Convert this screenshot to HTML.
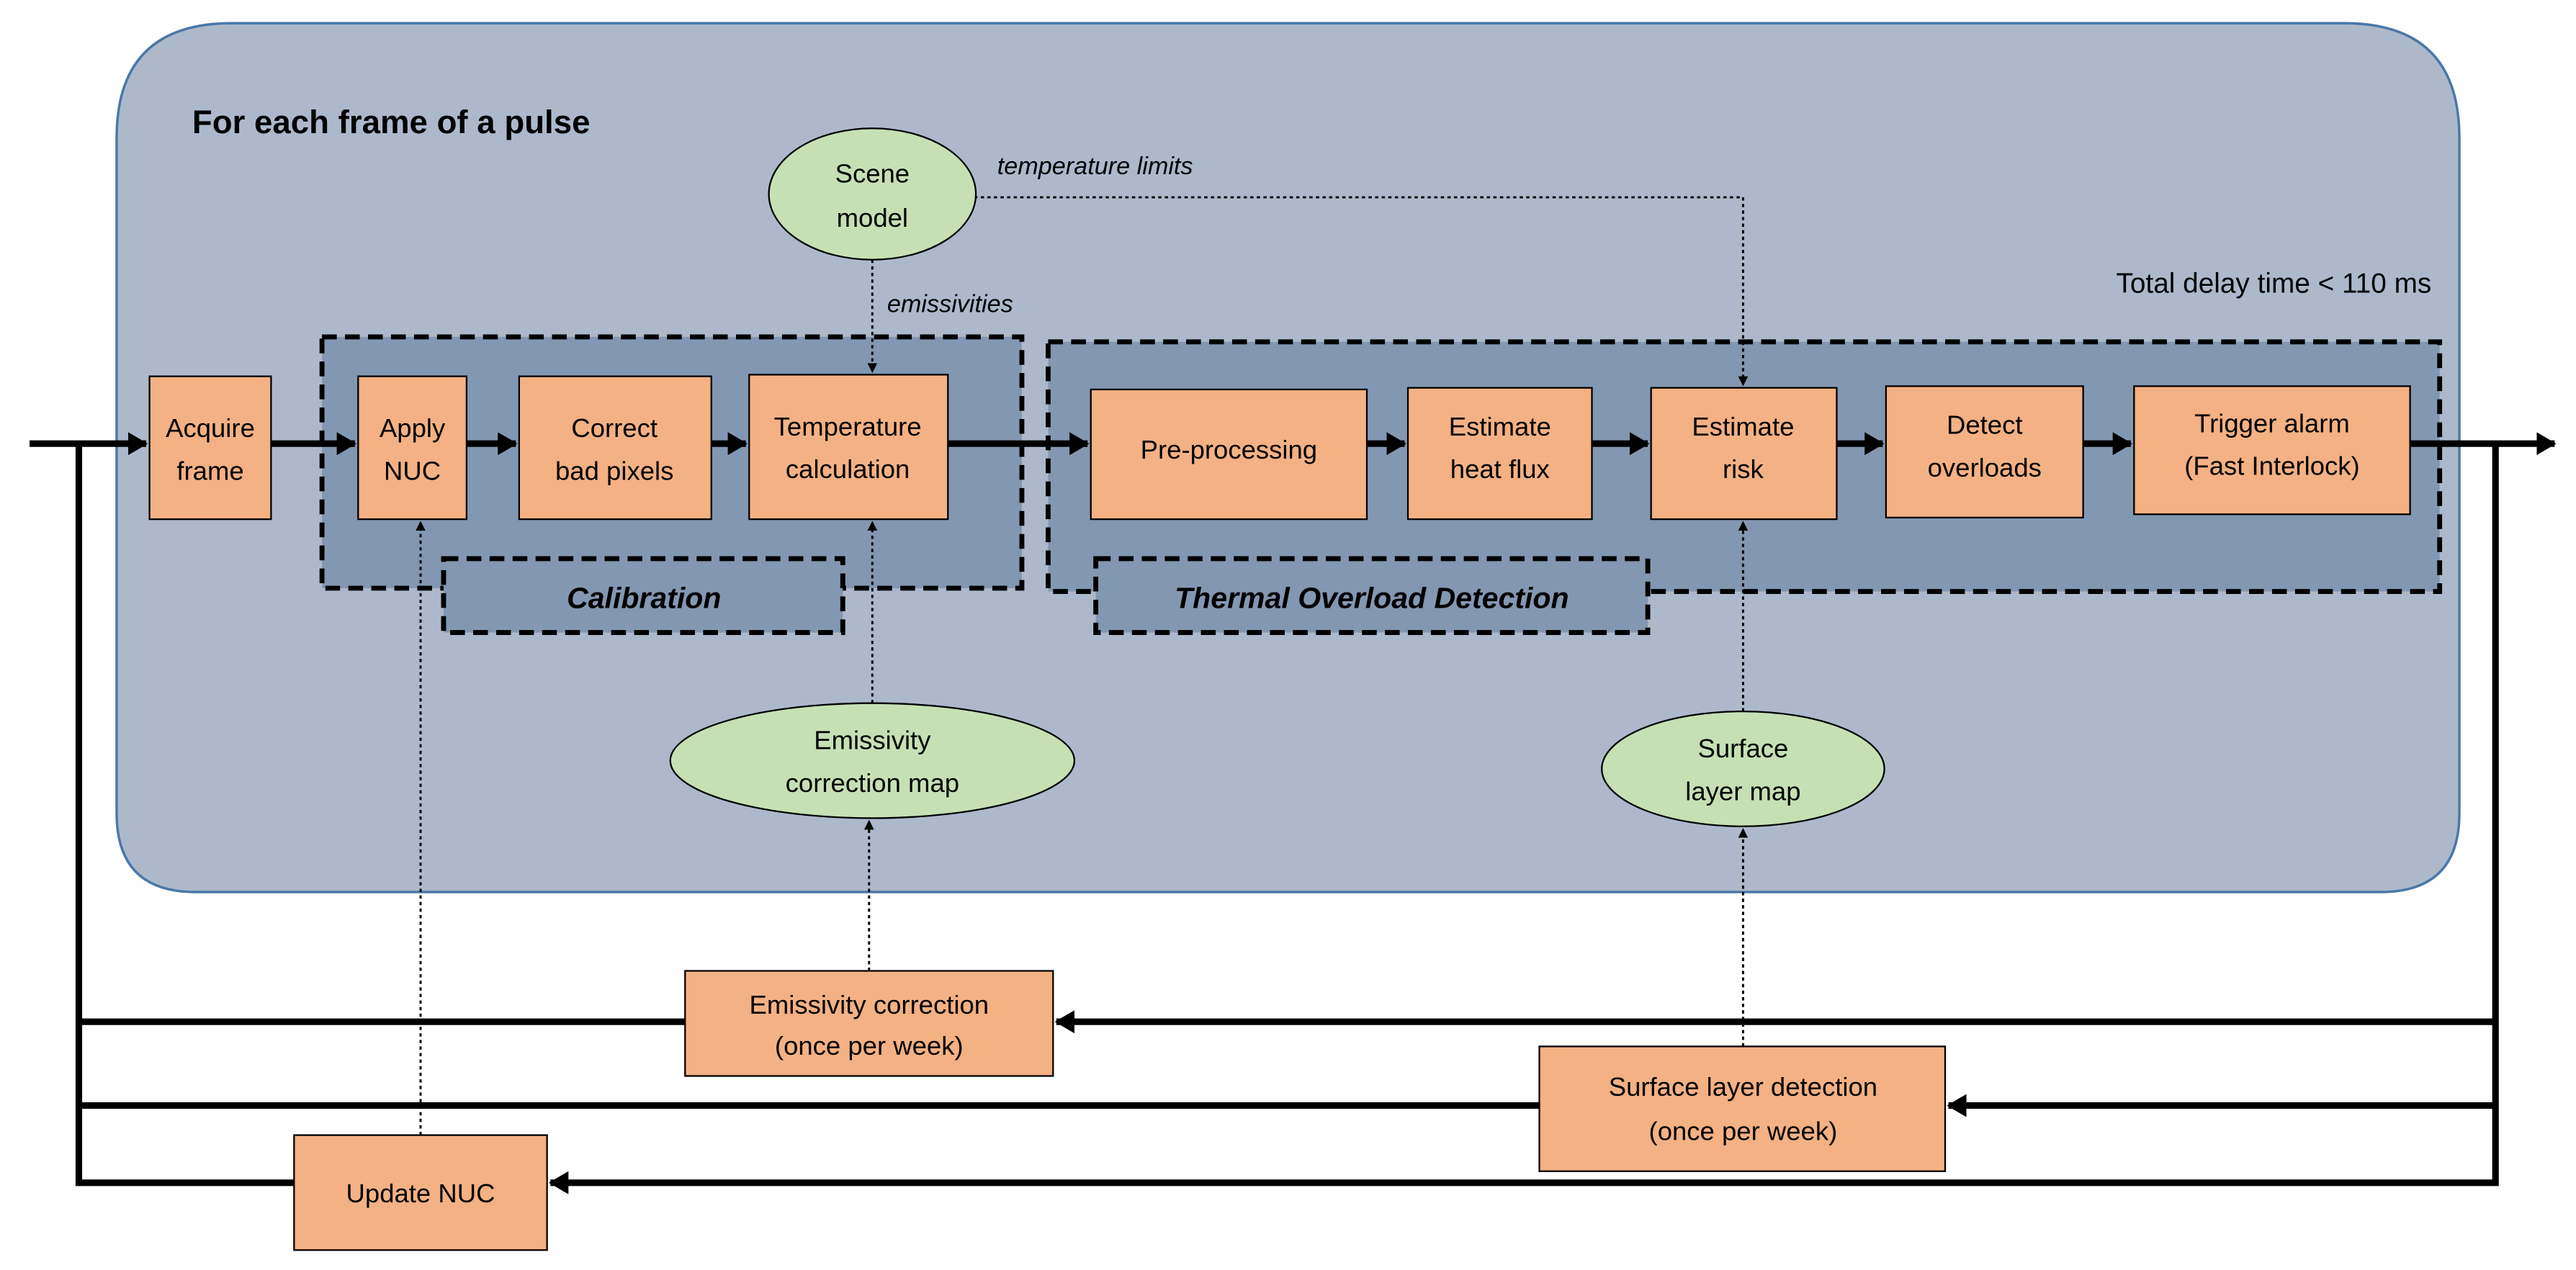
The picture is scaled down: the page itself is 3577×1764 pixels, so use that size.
<!DOCTYPE html>
<html><head><meta charset="utf-8"><style>
html,body{margin:0;padding:0;background:#fff;}
svg{display:block;}
text{font-family:"Liberation Sans",sans-serif;fill:#000;}
</style></head><body>
<svg width="3577" height="1764" viewBox="0 0 1568 773" xmlns="http://www.w3.org/2000/svg">
<defs>
<marker id="ah" markerWidth="6" markerHeight="6" refX="5" refY="3" orient="auto" markerUnits="userSpaceOnUse"><path d="M0,0 L6,3 L0,6 z" fill="#000"/></marker>
<marker id="bh" markerWidth="12" markerHeight="14" refX="11" refY="7" orient="auto" markerUnits="userSpaceOnUse"><path d="M0,0 L12,7 L0,14 z" fill="#000"/></marker>
</defs>
<!-- main container -->
<path d="M141,14 L1427,14 Q1497,14 1497,84 L1497,495 Q1497,543 1449,543 L119,543 Q71,543 71,495 L71,84 Q71,14 141,14 Z" fill="#adb9cb" stroke="#4a78a8" stroke-width="1.5"/>
<text x="117" y="81" font-size="20" font-weight="bold">For each frame of a pulse</text>
<text x="1480" y="178" font-size="17" text-anchor="end">Total delay time &lt; 110 ms</text>

<!-- group boxes -->
<rect x="196" y="205" width="426" height="153" fill="#8297b1" stroke="#000" stroke-width="3" stroke-dasharray="9,5"/>
<rect x="270" y="340" width="243" height="45" fill="#8297b1" stroke="#000" stroke-width="3" stroke-dasharray="9,5"/>
<text x="392" y="370" font-size="18" font-weight="bold" font-style="italic" text-anchor="middle">Calibration</text>
<rect x="638" y="208" width="847" height="152" fill="#8297b1" stroke="#000" stroke-width="3" stroke-dasharray="9,5"/>
<rect x="667" y="340" width="336" height="45" fill="#8297b1" stroke="#000" stroke-width="3" stroke-dasharray="9,5"/>
<text x="835" y="370" font-size="18" font-weight="bold" font-style="italic" text-anchor="middle">Thermal Overload Detection</text>

<!-- thick main flow -->
<g stroke="#000" stroke-width="4" fill="none">
<line x1="18" y1="270" x2="89" y2="270" marker-end="url(#bh)"/>
<line x1="165" y1="270" x2="216" y2="270" marker-end="url(#bh)"/>
<line x1="284" y1="270" x2="314" y2="270" marker-end="url(#bh)"/>
<line x1="433" y1="270" x2="454" y2="270" marker-end="url(#bh)"/>
<line x1="577" y1="270" x2="662" y2="270" marker-end="url(#bh)"/>
<line x1="832" y1="270" x2="855" y2="270" marker-end="url(#bh)"/>
<line x1="969" y1="270" x2="1003" y2="270" marker-end="url(#bh)"/>
<line x1="1118" y1="270" x2="1146" y2="270" marker-end="url(#bh)"/>
<line x1="1268" y1="270" x2="1297" y2="270" marker-end="url(#bh)"/>
<line x1="1467" y1="270" x2="1555" y2="270" marker-end="url(#bh)"/>
<polyline points="48,270 48,720 179,720"/>
<line x1="48" y1="622" x2="417" y2="622"/>
<line x1="48" y1="673" x2="937" y2="673"/>
<polyline points="1519,270 1519,720 335,720" marker-end="url(#bh)"/>
<line x1="1519" y1="622" x2="643" y2="622" marker-end="url(#bh)"/>
<line x1="1519" y1="673" x2="1186" y2="673" marker-end="url(#bh)"/>
</g>

<!-- dotted connectors -->
<g stroke="#000" stroke-width="1.3" fill="none" stroke-dasharray="2,2">
<polyline points="593,120 1061,120 1061,234" marker-end="url(#ah)"/>
<line x1="531" y1="158" x2="531" y2="226" marker-end="url(#ah)"/>
<line x1="531" y1="428" x2="531" y2="318" marker-end="url(#ah)"/>
<line x1="529" y1="591" x2="529" y2="500" marker-end="url(#ah)"/>
<line x1="1061" y1="433" x2="1061" y2="318" marker-end="url(#ah)"/>
<line x1="1061" y1="637" x2="1061" y2="505" marker-end="url(#ah)"/>
<line x1="256" y1="691" x2="256" y2="318" marker-end="url(#ah)"/>
</g>
<text x="607" y="106" font-size="15" font-style="italic">temperature limits</text>
<text x="540" y="190" font-size="15" font-style="italic">emissivities</text>

<!-- ellipses -->
<g fill="#c6e0b4" stroke="#000" stroke-width="1">
<ellipse cx="531" cy="118" rx="63" ry="40"/>
<ellipse cx="531" cy="463" rx="123" ry="35"/>
<ellipse cx="1061" cy="468" rx="86" ry="35"/>
</g>
<g font-size="16" text-anchor="middle">
<text x="531" y="111">Scene</text><text x="531" y="138">model</text>
<text x="531" y="456">Emissivity</text><text x="531" y="482">correction map</text>
<text x="1061" y="461">Surface</text><text x="1061" y="487">layer map</text>
</g>

<!-- process boxes -->
<g fill="#f4b183" stroke="#000" stroke-width="1">
<rect x="91" y="229" width="74" height="87"/>
<rect x="218" y="229" width="66" height="87"/>
<rect x="316" y="229" width="117" height="87"/>
<rect x="456" y="228" width="121" height="88"/>
<rect x="664" y="237" width="168" height="79"/>
<rect x="857" y="236" width="112" height="80"/>
<rect x="1005" y="236" width="113" height="80"/>
<rect x="1148" y="235" width="120" height="80"/>
<rect x="1299" y="235" width="168" height="78"/>
<rect x="417" y="591" width="224" height="64"/>
<rect x="937" y="637" width="247" height="76"/>
<rect x="179" y="691" width="154" height="70"/>
</g>
<g font-size="16" text-anchor="middle">
<text x="128" y="266">Acquire</text><text x="128" y="292">frame</text>
<text x="251" y="266">Apply</text><text x="251" y="292">NUC</text>
<text x="374" y="266">Correct</text><text x="374" y="292">bad pixels</text>
<text x="516" y="265">Temperature</text><text x="516" y="291">calculation</text>
<text x="748" y="279">Pre-processing</text>
<text x="913" y="265">Estimate</text><text x="913" y="291">heat flux</text>
<text x="1061" y="265">Estimate</text><text x="1061" y="291">risk</text>
<text x="1208" y="264">Detect</text><text x="1208" y="290">overloads</text>
<text x="1383" y="263">Trigger alarm</text><text x="1383" y="289">(Fast Interlock)</text>
<text x="529" y="617">Emissivity correction</text><text x="529" y="642">(once per week)</text>
<text x="1061" y="667">Surface layer detection</text><text x="1061" y="694">(once per week)</text>
<text x="256" y="732">Update NUC</text>
</g>
</svg>
</body></html>
